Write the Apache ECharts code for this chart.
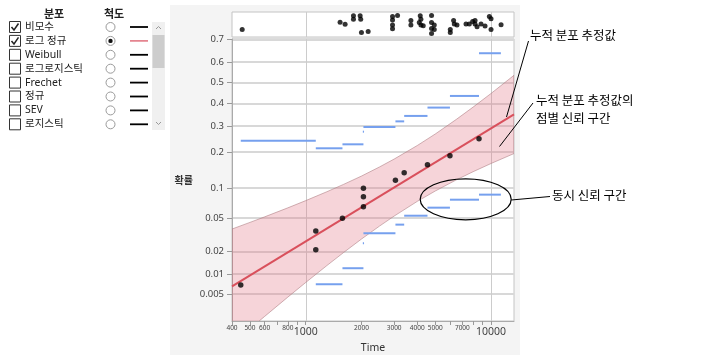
<!DOCTYPE html>
<html><head><meta charset="utf-8">
<script src="https://cdn.jsdelivr.net/npm/echarts@6/dist/echarts.min.js"></script>
<style>html,body{margin:0;padding:0;background:#fff}#c{width:702px;height:360px}</style>
</head><body><div id="c"></div>
<script>
// ---------- data ----------
const X_MIN = 400, X_MAX = 13300;            // Time axis range (log scale)
const Y_MIN_P = 0.00187, Y_MAX_P = 0.7025;   // probability axis range (normal probability scale)
const X_TICKS = [400,500,600,700,800,900,1000,2000,3000,4000,5000,6000,7000,8000,9000,10000];
const X_LABELS = [400,500,600,800,1000,2000,3000,4000,5000,7000,10000];
const X_BIG = [1000,10000];
const X_GRID = [1000,10000];
const Y_TICK_LABELS = ['0.005','0.01','0.02','0.05','0.1','0.2','0.3','0.4','0.5','0.6','0.7'];

const FAIL_TIME = [446,1133,1133,1578,2048,2048,2048,3048,3398,4539,6000,8610];
const FAIL_PROB = [0.0069,0.0356,0.0211,0.0495,0.0994,0.0827,0.0657,0.1176,0.1368,0.159,0.187,0.248];

const FIT_TIME = [400,13300];
const FIT_PROB = [0.0066,0.35];

const BAND_TIME  = [400,500,600,800,1000,1300,1600,2000,2500,3000,4000,5000,6500,8000,10000,13300];
const BAND_UPPER = [0.0375,0.0446,0.0513,0.0639,0.0757,0.0923,0.108,0.128,0.1526,0.1764,0.2224,0.2663,0.3278,0.3832,0.4479,0.5359];
const BAND_LOWER = [0.00074,0.00138,0.00223,0.00454,0.00754,0.01304,0.0194,0.0286,0.0405,0.0523,0.0744,0.0938,0.1186,0.1394,0.1628,0.1943];

const SCB_UP_START = [446,1133,1578,2048,2048,3048,3398,4539,6000,8610];
const SCB_UP_END   = [1133,1578,2048,2048,3048,3398,4539,6000,8610,11300];
const SCB_UP_PROB  = [0.240,0.2124,0.2267,0.2756,0.295,0.319,0.343,0.381,0.436,0.640];
const SCB_LO_START = [1133,1578,2048,2048,3048,3398,4539,6000,8610];
const SCB_LO_END   = [1578,2048,2048,3048,3398,4539,6000,8610,11300];
const SCB_LO_PROB  = [0.0071,0.0120,0.0254,0.0335,0.0421,0.0528,0.0642,0.0773,0.0866];

const STRIP_TIME = [454,1532,1631,1809,1809,1966,1980,1998,2172,2940,2940,2940,2940,3129,3694,3694,4148,4183,4099,4183,4306,4775,4775,4938,4775,4938,4775,6026,6026,6279,6333,6550,7326,7634,7954,8197,8197,8404,8830,9281,9791,9998,9998,11326];
const STRIP_JIT  = [0.30,0.59,0.51,0.85,0.71,0.85,0.71,0.18,0.22,0.82,0.68,0.48,0.33,0.86,0.66,0.48,0.85,0.71,0.58,0.48,0.45,0.86,0.58,0.48,0.34,0.30,0.14,0.30,0.18,0.66,0.52,0.48,0.52,0.52,0.62,0.66,0.52,0.41,0.52,0.44,0.82,0.73,0.30,0.49];

const DIST_NAMES = ['비모수','로그 정규','Weibull','로그로지스틱','Frechet','정규','SEV','로지스틱'];
const DIST_CHECKED = [true,true,false,false,false,false,false,false];
const SCALE_SELECTED = 1;

// ---------- helpers ----------
function probit(p){
  const a=[-3.969683028665376e+01,2.209460984245205e+02,-2.759285104469687e+02,1.383577518672690e+02,-3.066479806614716e+01,2.506628277459239e+00];
  const b=[-5.447609879822406e+01,1.615858368580409e+02,-1.556989798598866e+02,6.680131188771972e+01,-1.328068155833025e+01];
  const c=[-7.784894002430293e-03,-3.223964580411365e-01,-2.400758277161838e+00,-2.549732539343734e+00,4.374664141464968e+00,2.938163982698783e+00];
  const d=[7.784695709041462e-03,3.224671290700398e-01,2.445134137142996e+00,3.754408661907416e+00];
  const pl=0.02425, ph=1-pl; let q,r;
  if(p<pl){q=Math.sqrt(-2*Math.log(p));return (((((c[0]*q+c[1])*q+c[2])*q+c[3])*q+c[4])*q+c[5])/((((d[0]*q+d[1])*q+d[2])*q+d[3])*q+1);}
  if(p<=ph){q=p-0.5;r=q*q;return (((((a[0]*r+a[1])*r+a[2])*r+a[3])*r+a[4])*r+a[5])*q/(((((b[0]*r+b[1])*r+b[2])*r+b[3])*r+b[4])*r+1);}
  q=Math.sqrt(-2*Math.log(1-p));return -(((((c[0]*q+c[1])*q+c[2])*q+c[3])*q+c[4])*q+c[5])/((((d[0]*q+d[1])*q+d[2])*q+d[3])*q+1);
}
const L = t => Math.log10(t);
const Z = p => probit(p);
const Y_TICK_VALS = Y_TICK_LABELS.map(s => Z(parseFloat(s)));

const FONT = "'Noto Sans','Noto Sans CJK KR',sans-serif";
const KFONT = "'Noto Sans CJK KR','Noto Sans',sans-serif";

// ---------- left panel graphics ----------
const panel = [];
panel.push({type:'rect', z:-100, shape:{x:170,y:5,width:350,height:350}, style:{fill:'#f4f4f4'}});
panel.push({type:'text', style:{text:'분포', x:54, y:14, align:'center', verticalAlign:'middle', font:'bold 11px '+KFONT, fill:'#222'}});
panel.push({type:'text', style:{text:'척도', x:114, y:14, align:'center', verticalAlign:'middle', font:'bold 11px '+KFONT, fill:'#222'}});
DIST_NAMES.forEach((name,i)=>{
  const yc = 27 + i*13.9;
  panel.push({type:'rect', shape:{x:9.5,y:yc-5.5,width:11,height:11}, style:{fill:'#fff', stroke:'#333', lineWidth:1}});
  if (DIST_CHECKED[i]) panel.push({type:'polyline', shape:{points:[[11.5,yc],[14,yc+3],[18.5,yc-3.5]]}, style:{stroke:'#222', lineWidth:1.5, fill:null}});
  panel.push({type:'text', style:{text:name, x:25, y:yc, verticalAlign:'middle', font:'10.5px '+FONT, fill:'#222'}});
  panel.push({type:'circle', shape:{cx:110.5, cy:yc, r:4.5}, style:{fill:'#fff', stroke:'#9a9a9a', lineWidth:1}});
  if (i===SCALE_SELECTED) panel.push({type:'circle', shape:{cx:110.5, cy:yc, r:2.2}, style:{fill:'#111'}});
  panel.push({type:'line', shape:{x1:130,y1:yc,x2:148,y2:yc}, style:{stroke: i===SCALE_SELECTED ? '#e0707c' : '#000', lineWidth: i===SCALE_SELECTED ? 1.5 : 1.8}});
});
panel.push({type:'rect', shape:{x:152,y:22,width:13,height:108}, style:{fill:'#f0f0f0'}});
panel.push({type:'rect', shape:{x:152.5,y:35,width:12,height:33}, style:{fill:'#cdcdcd'}});
panel.push({type:'polyline', shape:{points:[[156,29],[158.5,26.5],[161,29]]}, style:{stroke:'#999', lineWidth:1, fill:null}});
panel.push({type:'polyline', shape:{points:[[156,122],[158.5,124.5],[161,122]]}, style:{stroke:'#999', lineWidth:1, fill:null}});

// annotations
const ann = [
  {type:'text', z:50, style:{text:'누적 분포 추정값', x:530, y:35, verticalAlign:'middle', font:'12.5px '+KFONT, fill:'#000'}},
  {type:'line', z:50, shape:{x1:528.5,y1:41,x2:506.5,y2:117}, style:{stroke:'#000', lineWidth:1}},
  {type:'text', z:50, style:{text:'누적 분포 추정값의', x:536, y:100, verticalAlign:'middle', font:'12.5px '+KFONT, fill:'#000'}},
  {type:'text', z:50, style:{text:'점별 신뢰 구간', x:536, y:118.5, verticalAlign:'middle', font:'12.5px '+KFONT, fill:'#000'}},
  {type:'line', z:50, shape:{x1:533,y1:103,x2:499.5,y2:146.5}, style:{stroke:'#000', lineWidth:1}},
  {type:'ellipse', z:50, shape:{cx:465.7, cy:199.3, rx:45.5, ry:20.5}, style:{fill:null, stroke:'#000', lineWidth:1.2}},
  {type:'line', z:50, shape:{x1:511.2,y1:200,x2:550,y2:196.5}, style:{stroke:'#000', lineWidth:1}},
  {type:'text', z:50, style:{text:'동시 신뢰 구간', x:552, y:195.5, verticalAlign:'middle', font:'12.5px '+KFONT, fill:'#000'}}
];

// ---------- chart ----------
const chart = echarts.init(document.getElementById('c'), null, {renderer:'canvas'});
const segRender = (params, api) => {
  const a = api.coord([api.value(0), api.value(2)]);
  const b = api.coord([api.value(1), api.value(2)]);
  if (b[0]-a[0] < 1) { a[0] -= 0.6; b[0] += 0.6; }
  return {type:'line', shape:{x1:a[0],y1:a[1],x2:b[0],y2:b[1]}, style:{stroke:'#76a0ee', lineWidth:2}};
};
// background layer: grid lines + pointwise confidence band, all placed through the axes' scales
const bgRender = (params, api) => {
  if (params.dataIndex !== 0) return null;
  const cs = params.coordSys;
  const kids = [];
  for (let k = 0; k < Y_TICK_VALS.length; k++) {
    const y = Math.round(api.coord([L(3000), Y_TICK_VALS[k]])[1]);
    kids.push({type:'rect', shape:{x:cs.x+1, y:y-1, width:cs.width-1, height:2}, style:{fill:'#d8d8d8'}});
  }
  for (let k = 0; k < X_GRID.length; k++) {
    const x = Math.round(api.coord([L(X_GRID[k]), 0])[0]) + 0.5;
    kids.push({type:'line', shape:{x1:x, y1:cs.y, x2:x, y2:cs.y+cs.height}, style:{stroke:'#cccccc', lineWidth:1}});
  }
  const pts = [];
  for (let i=0;i<BAND_TIME.length;i++) pts.push(api.coord([L(BAND_TIME[i]), Z(BAND_UPPER[i])]));
  for (let i=BAND_TIME.length-1;i>=0;i--) pts.push(api.coord([L(BAND_TIME[i]), Z(BAND_LOWER[i])]));
  kids.push({type:'polygon', shape:{points:pts}, style:{fill:'rgba(228,120,136,0.32)', stroke:'rgba(170,120,126,0.55)', lineWidth:1}});
  return {type:'group', clipPath:{type:'rect', shape:{x:cs.x, y:cs.y, width:cs.width, height:cs.height}}, children:kids};
};
const stripGridRender = (params, api) => {
  if (params.dataIndex !== 0) return null;
  const cs = params.coordSys;
  return {type:'group', children: X_GRID.map(t => {
    const x = Math.round(api.coord([L(t), 0.5])[0]) + 0.5;
    return {type:'line', shape:{x1:x, y1:cs.y, x2:x, y2:cs.y+cs.height}, style:{stroke:'#cccccc', lineWidth:1}};
  })};
};

chart.setOption({
  animation:false,
  backgroundColor:'#fff',
  textStyle:{fontFamily:FONT},
  graphic:{elements: panel.concat(ann)},
  grid:[
    {left:232, top:39, width:282, height:282, show:true, backgroundColor:'#fff', borderColor:'#c4c4c4', borderWidth:1},
    {left:232, top:12, width:282, height:25, show:true, backgroundColor:'#fff', borderColor:'#c4c4c4', borderWidth:1}
  ],
  xAxis:[
    {type:'value', gridIndex:0, min:L(X_MIN), max:L(X_MAX),
     name:'Time', nameLocation:'middle', nameGap:20, nameTextStyle:{fontSize:10.5, color:'#333', fontFamily:FONT},
     axisLine:{show:true, onZero:false, lineStyle:{color:'#aaa'}},
     axisTick:{show:true, length:4, lineStyle:{color:'#999'}, customValues: X_TICKS.map(L)},
     axisLabel:{show:true, margin:3, customValues: X_LABELS.map(L),
       formatter: v => { const t = Math.round(Math.pow(10, v)); return X_BIG.includes(t) ? '{big|'+t+'}' : '{small|'+t+'}'; },
       rich:{ small:{fontSize:6.5, color:'#444', fontFamily:FONT, lineHeight:8},
              big:{fontSize:10.5, color:'#444', fontFamily:FONT, lineHeight:13, padding:[4,0,0,0]} }},
     splitLine:{show:false}},
    {type:'value', gridIndex:1, min:L(X_MIN), max:L(X_MAX), show:false, splitLine:{show:false}}
  ],
  yAxis:[
    {type:'value', gridIndex:0, min:Z(Y_MIN_P), max:Z(Y_MAX_P),
     name:'확률', nameLocation:'middle', nameRotate:0, nameGap:39,
     nameTextStyle:{fontSize:10, fontWeight:'bold', color:'#333', fontFamily:KFONT},
     axisLine:{show:true, onZero:false, lineStyle:{color:'#aaa'}},
     axisTick:{show:true, length:5, lineStyle:{color:'#999'}, customValues: Y_TICK_VALS},
     axisLabel:{show:true, margin:8, fontSize:9.5, color:'#444', customValues: Y_TICK_VALS,
       formatter: v => { let best=0; Y_TICK_VALS.forEach((z,i)=>{ if (Math.abs(z-v) < Math.abs(Y_TICK_VALS[best]-v)) best=i; }); return Y_TICK_LABELS[best]; }},
     splitLine:{show:false}},
    {type:'value', gridIndex:1, min:0, max:1, show:false, splitLine:{show:false}}
  ],
  series:[
    {type:'custom', xAxisIndex:0, yAxisIndex:0, z:2, silent:true,
     data: BAND_TIME.map((t,i)=>[L(t), Z(BAND_UPPER[i]), Z(BAND_LOWER[i])]),
     encode:{x:0, y:[1,2]}, renderItem: bgRender},
    {type:'custom', xAxisIndex:0, yAxisIndex:0, z:3, silent:true, clip:true,
     data: SCB_UP_START.map((t,i)=>[L(t), L(SCB_UP_END[i]), Z(SCB_UP_PROB[i])]),
     encode:{x:[0,1], y:2}, renderItem: segRender},
    {type:'custom', xAxisIndex:0, yAxisIndex:0, z:3, silent:true, clip:true,
     data: SCB_LO_START.map((t,i)=>[L(t), L(SCB_LO_END[i]), Z(SCB_LO_PROB[i])]),
     encode:{x:[0,1], y:2}, renderItem: segRender},
    {type:'line', xAxisIndex:0, yAxisIndex:0, z:4, silent:true, symbol:'none',
     lineStyle:{color:'#d9505c', width:2},
     data: FIT_TIME.map((t,i)=>[L(t), Z(FIT_PROB[i])])},
    {type:'scatter', xAxisIndex:0, yAxisIndex:0, z:5, silent:true, symbolSize:5.5,
     itemStyle:{color:'#000'},
     data: FAIL_TIME.map((t,i)=>[L(t), Z(FAIL_PROB[i])])},
    {type:'custom', xAxisIndex:1, yAxisIndex:1, z:1, silent:true,
     data: STRIP_TIME.map((t,i)=>[L(t), STRIP_JIT[i]]), encode:{x:0, y:1}, renderItem: stripGridRender},
    {type:'scatter', xAxisIndex:1, yAxisIndex:1, z:5, silent:true, symbolSize:5,
     itemStyle:{color:'#000'},
     data: STRIP_TIME.map((t,i)=>[L(t), STRIP_JIT[i]])}
  ]
});

// horizontal grid lines placed with the library's own converter (backup layer, same look)
try {
  const gridEls = [];
  const left = chart.convertToPixel({xAxisIndex:0, yAxisIndex:0}, [L(X_MIN), Y_TICK_VALS[0]]);
  const right = chart.convertToPixel({xAxisIndex:0, yAxisIndex:0}, [L(X_MAX), Y_TICK_VALS[0]]);
  for (let k = 0; k < Y_TICK_VALS.length; k++) {
    const p = chart.convertToPixel({xAxisIndex:0, yAxisIndex:0}, [L(3000), Y_TICK_VALS[k]]);
    if (!p || !isFinite(p[1])) continue;
    const y = Math.round(p[1]);
    gridEls.push({type:'rect', id:'hg'+k, z:1, silent:true,
      shape:{x:left[0]+1, y:y-1, width:right[0]-left[0]-1, height:2}, style:{fill:'#d8d8d8'}});
  }
  if (gridEls.length) chart.setOption({graphic:{elements: panel.concat(ann).concat(gridEls)}});
} catch (e) {}
</script></body></html>
